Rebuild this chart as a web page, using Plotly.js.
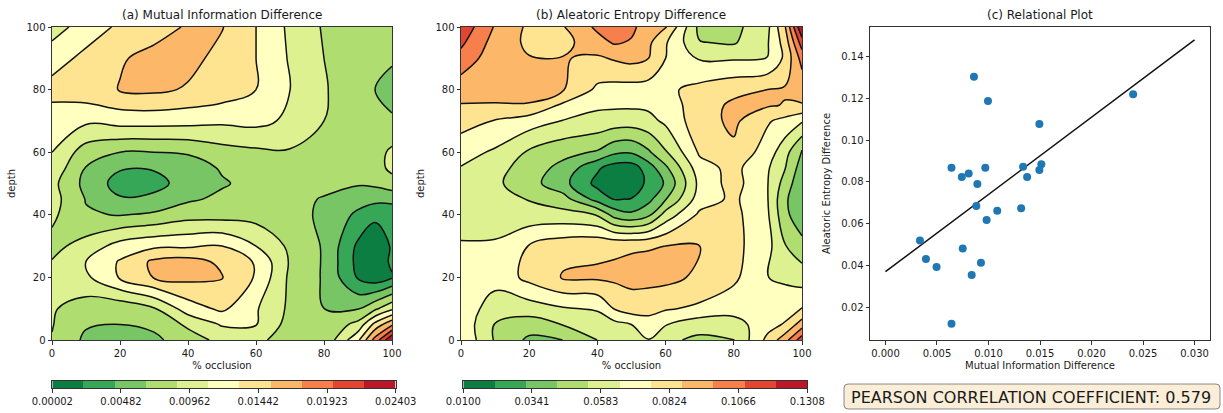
<!DOCTYPE html>
<html><head><meta charset="utf-8">
<script src="https://cdn.plot.ly/plotly-3.0.1.min.js"></script>
<style>html,body{margin:0;padding:0;background:#fff;}#chart{width:1223px;height:413px;}</style>
</head><body><div id="chart"></div>
<script>
// ---------- data ----------
const occlusionA = [0,10,20,30,40,50,60,70,80,90,95,100];
const depthA = [0,5,10,20,25,30,40,45,50,55,60,70,80,90,100];
const mutualInfoGrid = [
 [0.00864,0.00613,0.00570,0.00613,0.00766,0.00941,0.00941,0.00744,0.00700,0.01268,0.01835,0.02403],
 [0.00886,0.00679,0.00657,0.00700,0.00919,0.01115,0.01104,0.00788,0.00700,0.00941,0.01377,0.01705],
 [0.00897,0.00766,0.00722,0.00853,0.01203,0.01355,0.01115,0.00831,0.00657,0.00646,0.00831,0.01050],
 [0.00919,0.01050,0.01333,0.01541,0.01585,0.01541,0.01290,0.00831,0.00635,0.00198,0.00089,0.00198],
 [0.00886,0.01094,0.01333,0.01574,0.01617,0.01486,0.01290,0.00853,0.00635,0.00155,0.00067,0.00264],
 [0.00810,0.00962,0.01181,0.01268,0.01279,0.01312,0.01094,0.00831,0.00635,0.00177,0.00089,0.00242],
 [0.00919,0.00679,0.00646,0.00690,0.00788,0.00788,0.00788,0.00744,0.00613,0.00395,0.00264,0.00242],
 [0.00962,0.00646,0.00460,0.00504,0.00624,0.00700,0.00744,0.00744,0.00635,0.00526,0.00504,0.00526],
 [0.00941,0.00591,0.00351,0.00351,0.00548,0.00635,0.00722,0.00766,0.00744,0.00679,0.00700,0.00766],
 [0.01028,0.00646,0.00460,0.00460,0.00548,0.00679,0.00744,0.00788,0.00766,0.00744,0.00766,0.00941],
 [0.01094,0.00766,0.00657,0.00657,0.00679,0.00788,0.00831,0.00853,0.00766,0.00744,0.00788,0.00919],
 [0.01181,0.01137,0.01181,0.01181,0.01170,0.01137,0.01159,0.01050,0.00875,0.00722,0.00679,0.00679],
 [0.01399,0.01443,0.01541,0.01574,0.01508,0.01443,0.01312,0.01094,0.00897,0.00722,0.00657,0.00591],
 [0.01203,0.01377,0.01508,0.01595,0.01595,0.01464,0.01312,0.01072,0.00875,0.00744,0.00700,0.00679],
 [0.01006,0.01181,0.01355,0.01443,0.01552,0.01541,0.01312,0.01050,0.00853,0.00766,0.00722,0.00722]
];
const occlusionB = [0,10,20,30,40,45,50,55,60,70,80,90,95,100];
const depthB = [0,5,10,20,30,40,45,50,55,60,70,75,80,90,95,100];
const aleatoricGrid = [
 [0.0748,0.0528,0.0407,0.0430,0.0540,0.0572,0.0594,0.0646,0.0561,0.0517,0.0534,0.0792,0.0935,0.1154],
 [0.0726,0.0534,0.0484,0.0545,0.0594,0.0616,0.0650,0.0704,0.0655,0.0583,0.0605,0.0715,0.0770,0.0924],
 [0.0704,0.0605,0.0594,0.0638,0.0660,0.0764,0.0814,0.0803,0.0770,0.0737,0.0693,0.0671,0.0704,0.0764],
 [0.0682,0.0682,0.0792,0.0880,0.0885,0.0891,0.0902,0.0902,0.0902,0.0847,0.0781,0.0650,0.0633,0.0594],
 [0.0666,0.0671,0.0764,0.0825,0.0847,0.0852,0.0858,0.0863,0.0869,0.0869,0.0792,0.0682,0.0545,0.0473],
 [0.0572,0.0572,0.0583,0.0578,0.0534,0.0386,0.0342,0.0407,0.0583,0.0781,0.0792,0.0660,0.0462,0.0342],
 [0.0583,0.0572,0.0534,0.0473,0.0276,0.0204,0.0215,0.0287,0.0424,0.0704,0.0781,0.0650,0.0451,0.0331],
 [0.0594,0.0561,0.0473,0.0353,0.0177,0.0122,0.0122,0.0243,0.0331,0.0682,0.0803,0.0650,0.0495,0.0342],
 [0.0644,0.0583,0.0484,0.0397,0.0226,0.0160,0.0155,0.0265,0.0407,0.0715,0.0792,0.0660,0.0545,0.0375],
 [0.0693,0.0633,0.0523,0.0462,0.0418,0.0342,0.0331,0.0413,0.0528,0.0775,0.0847,0.0704,0.0583,0.0413],
 [0.0803,0.0753,0.0704,0.0644,0.0616,0.0600,0.0594,0.0616,0.0671,0.0825,0.0891,0.0770,0.0726,0.0660],
 [0.0863,0.0858,0.0858,0.0737,0.0666,0.0666,0.0666,0.0671,0.0704,0.0814,0.0891,0.0880,0.0863,0.0863],
 [0.0913,0.0924,0.0924,0.0874,0.0737,0.0720,0.0715,0.0710,0.0737,0.0792,0.0836,0.0869,0.0880,0.0902],
 [0.1050,0.0913,0.0874,0.0874,0.0852,0.0880,0.0902,0.0869,0.0759,0.0638,0.0638,0.0650,0.0781,0.1022],
 [0.1110,0.0935,0.0847,0.0836,0.0935,0.0990,0.0968,0.0891,0.0770,0.0545,0.0528,0.0644,0.0803,0.1143],
 [0.1165,0.0968,0.0847,0.0863,0.1001,0.1033,0.1001,0.0924,0.0880,0.0506,0.0506,0.0627,0.0858,0.1308]
];
const mutualInfoRange = [0.00002, 0.02403];
const aleatoricRange = [0.0100, 0.1308];
const mutualInfoTickLabels = ['0.00002','0.00482','0.00962','0.01442','0.01923','0.02403'];
const aleatoricTickLabels = ['0.0100','0.0341','0.0583','0.0824','0.1066','0.1308'];
const relMutualInfo = [0.00859,0.00995,0.02404,0.01494,0.00641,0.00741,0.00808,0.00969,0.00892,0.01336,0.01375,0.01494,0.01513,0.00882,0.01085,0.00982,0.01317,0.00335,0.00750,0.00393,0.00496,0.00927,0.00837,0.00641];
const relAleatoric = [0.1304,0.1188,0.1220,0.1078,0.0868,0.0824,0.0840,0.0868,0.0790,0.0873,0.0824,0.0857,0.0885,0.0685,0.0662,0.0618,0.0674,0.0519,0.0481,0.0431,0.0393,0.0413,0.0354,0.0121];
const fitMutualInfo = [0.0, 0.030];
const fitAleatoric = [0.0370, 0.1480];
const pearsonText = 'PEARSON CORRELATION COEFFICIENT: 0.579';
const panelTitles = ['(a) Mutual Information Difference','(b) Aleatoric Entropy Difference','(c) Relational Plot'];

// ---------- style / layout ----------
const W = 1223, H = 413, NB = 11;
const palette = ['#0c7e42','#36a657','#78c565','#afdd70','#ddf190','#ffffbf','#fee390','#fdb769','#f77f4b','#e24631','#bc1627'];
const cscale = palette.map((c,i)=>[i/(NB-1), c]);
const FONT = 'DejaVu Sans, Verdana, sans-serif';
const TXT = '#1a1a1a';
const px = v => v / W, py = v => 1 - v / H;

function contourTrace(x, y, z, range, xa, ya) {
  const cs = (range[1] - range[0]) / NB;
  return {type:'contour', x:x, y:y, z:z, xaxis:xa, yaxis:ya, autocontour:false,
    contours:{coloring:'fill', showlines:true, start:range[0]+cs, end:range[1]-cs+cs*1e-3, size:cs},
    colorscale:cscale, line:{color:'#111', width:1.5, smoothing:1.1}, showscale:false};
}
function cbarTrace(range, xa, ya) {
  const cs = (range[1] - range[0]) / NB;
  const edges = [], idx = [];
  for (let i = 0; i <= NB; i++) edges.push(range[0] + i * cs);
  for (let i = 0; i < NB; i++) idx.push(i);
  return {type:'heatmap', x:edges, y:[0,1], z:[idx], zmin:0, zmax:NB-1, colorscale:cscale,
    showscale:false, xaxis:xa, yaxis:ya, hoverinfo:'skip'};
}

const data = [
  contourTrace(occlusionA, depthA, mutualInfoGrid, mutualInfoRange, 'x', 'y'),
  contourTrace(occlusionB, depthB, aleatoricGrid, aleatoricRange, 'x2', 'y2'),
  {type:'scatter', mode:'lines', x:fitMutualInfo, y:fitAleatoric, xaxis:'x3', yaxis:'y3',
   line:{color:'#111', width:1.5}, hoverinfo:'skip'},
  {type:'scatter', mode:'markers', x:relMutualInfo, y:relAleatoric, xaxis:'x3', yaxis:'y3',
   marker:{color:'#1f77b4', size:8}},
  cbarTrace(mutualInfoRange, 'x4', 'y4'),
  cbarTrace(aleatoricRange, 'x5', 'y5')
];

const tickFont = {family:FONT, size:10, color:TXT};
const titleFont = {family:FONT, size:10, color:TXT};
function ax(domain, extra) {
  return Object.assign({domain:domain, showgrid:false, zeroline:false, showline:true, mirror:true,
    linecolor:'#333', linewidth:1, ticks:'outside', ticklen:3.5, tickwidth:1, tickcolor:'#333',
    tickfont:tickFont, automargin:false}, extra);
}
const yDom = [py(340), py(27)];
const cbDom = [py(388), py(381)];

const layout = {
  width:W, height:H, margin:{l:0,r:0,t:0,b:0}, paper_bgcolor:'#fff', plot_bgcolor:'#fff',
  showlegend:false, font:{family:FONT, color:TXT},
  xaxis: ax([px(52), px(392)], {anchor:'y', range:[0,100], tickvals:[0,20,40,60,80,100],
    title:{text:'% occlusion', font:titleFont, standoff:4}}),
  yaxis: ax(yDom, {anchor:'x', range:[0,100], tickvals:[0,20,40,60,80,100],
    title:{text:'depth', font:titleFont, standoff:8}}),
  xaxis2: ax([px(461), px(802)], {anchor:'y2', range:[0,100], tickvals:[0,20,40,60,80,100],
    title:{text:'% occlusion', font:titleFont, standoff:4}}),
  yaxis2: ax(yDom, {anchor:'x2', range:[0,100], tickvals:[0,20,40,60,80,100],
    title:{text:'depth', font:titleFont, standoff:8}}),
  xaxis3: ax([px(870), px(1210)], {anchor:'y3', range:[-0.0015, 0.0315], tick0:0, dtick:0.005, tickformat:'.3f',
    title:{text:'Mutual Information Difference', font:titleFont, standoff:4}}),
  yaxis3: ax(yDom, {anchor:'x3', range:[0.0043, 0.1542], tick0:0, dtick:0.02, tickformat:'.2f',
    title:{text:'Aleatoric Entropy Difference', font:titleFont, standoff:8}}),
  xaxis4: ax([px(52.3), px(395.7)], {anchor:'y4', range:mutualInfoRange, tickvals:mutualInfoTickLabels.map(Number),
    ticktext:mutualInfoTickLabels}),
  yaxis4: ax(cbDom, {anchor:'x4', range:[0,1], showticklabels:false, ticks:''}),
  xaxis5: ax([px(463.3), px(807.3)], {anchor:'y5', range:aleatoricRange, tickvals:aleatoricTickLabels.map(Number),
    ticktext:aleatoricTickLabels}),
  yaxis5: ax(cbDom, {anchor:'x5', range:[0,1], showticklabels:false, ticks:''}),
  annotations: [
    {text:panelTitles[0], x:px(222), y:py(14.5), xref:'paper', yref:'paper', showarrow:false, xanchor:'center', yanchor:'middle', font:{family:FONT, size:12, color:TXT}},
    {text:panelTitles[1], x:px(631.5), y:py(14.5), xref:'paper', yref:'paper', showarrow:false, xanchor:'center', yanchor:'middle', font:{family:FONT, size:12, color:TXT}},
    {text:panelTitles[2], x:px(1040), y:py(14.5), xref:'paper', yref:'paper', showarrow:false, xanchor:'center', yanchor:'middle', font:{family:FONT, size:12, color:TXT}},
    {text:pearsonText, x:px(1031), y:py(397), xref:'paper', yref:'paper', showarrow:false, xanchor:'center', yanchor:'middle', font:{family:FONT, size:16, color:TXT}}
  ],
  shapes: []
};
// rounded box behind the Pearson text
(function(){
  const x0 = px(844), x1 = px(1220), yt = py(384), yb = py(409), rx = 4 / W, ry = 4 / H;
  const p = `M ${x0+rx},${yt} L ${x1-rx},${yt} Q ${x1},${yt} ${x1},${yt-ry} L ${x1},${yb+ry} Q ${x1},${yb} ${x1-rx},${yb} ` +
            `L ${x0+rx},${yb} Q ${x0},${yb} ${x0},${yb+ry} L ${x0},${yt-ry} Q ${x0},${yt} ${x0+rx},${yt} Z`;
  layout.shapes.push({type:'path', xref:'paper', yref:'paper', path:p, fillcolor:'rgba(245,222,179,0.5)',
    line:{color:'rgba(0,0,0,0.45)', width:1}, layer:'below'});
})();

Plotly.newPlot('chart', data, layout, {staticPlot:true, displayModeBar:false});
</script>
</body></html>
